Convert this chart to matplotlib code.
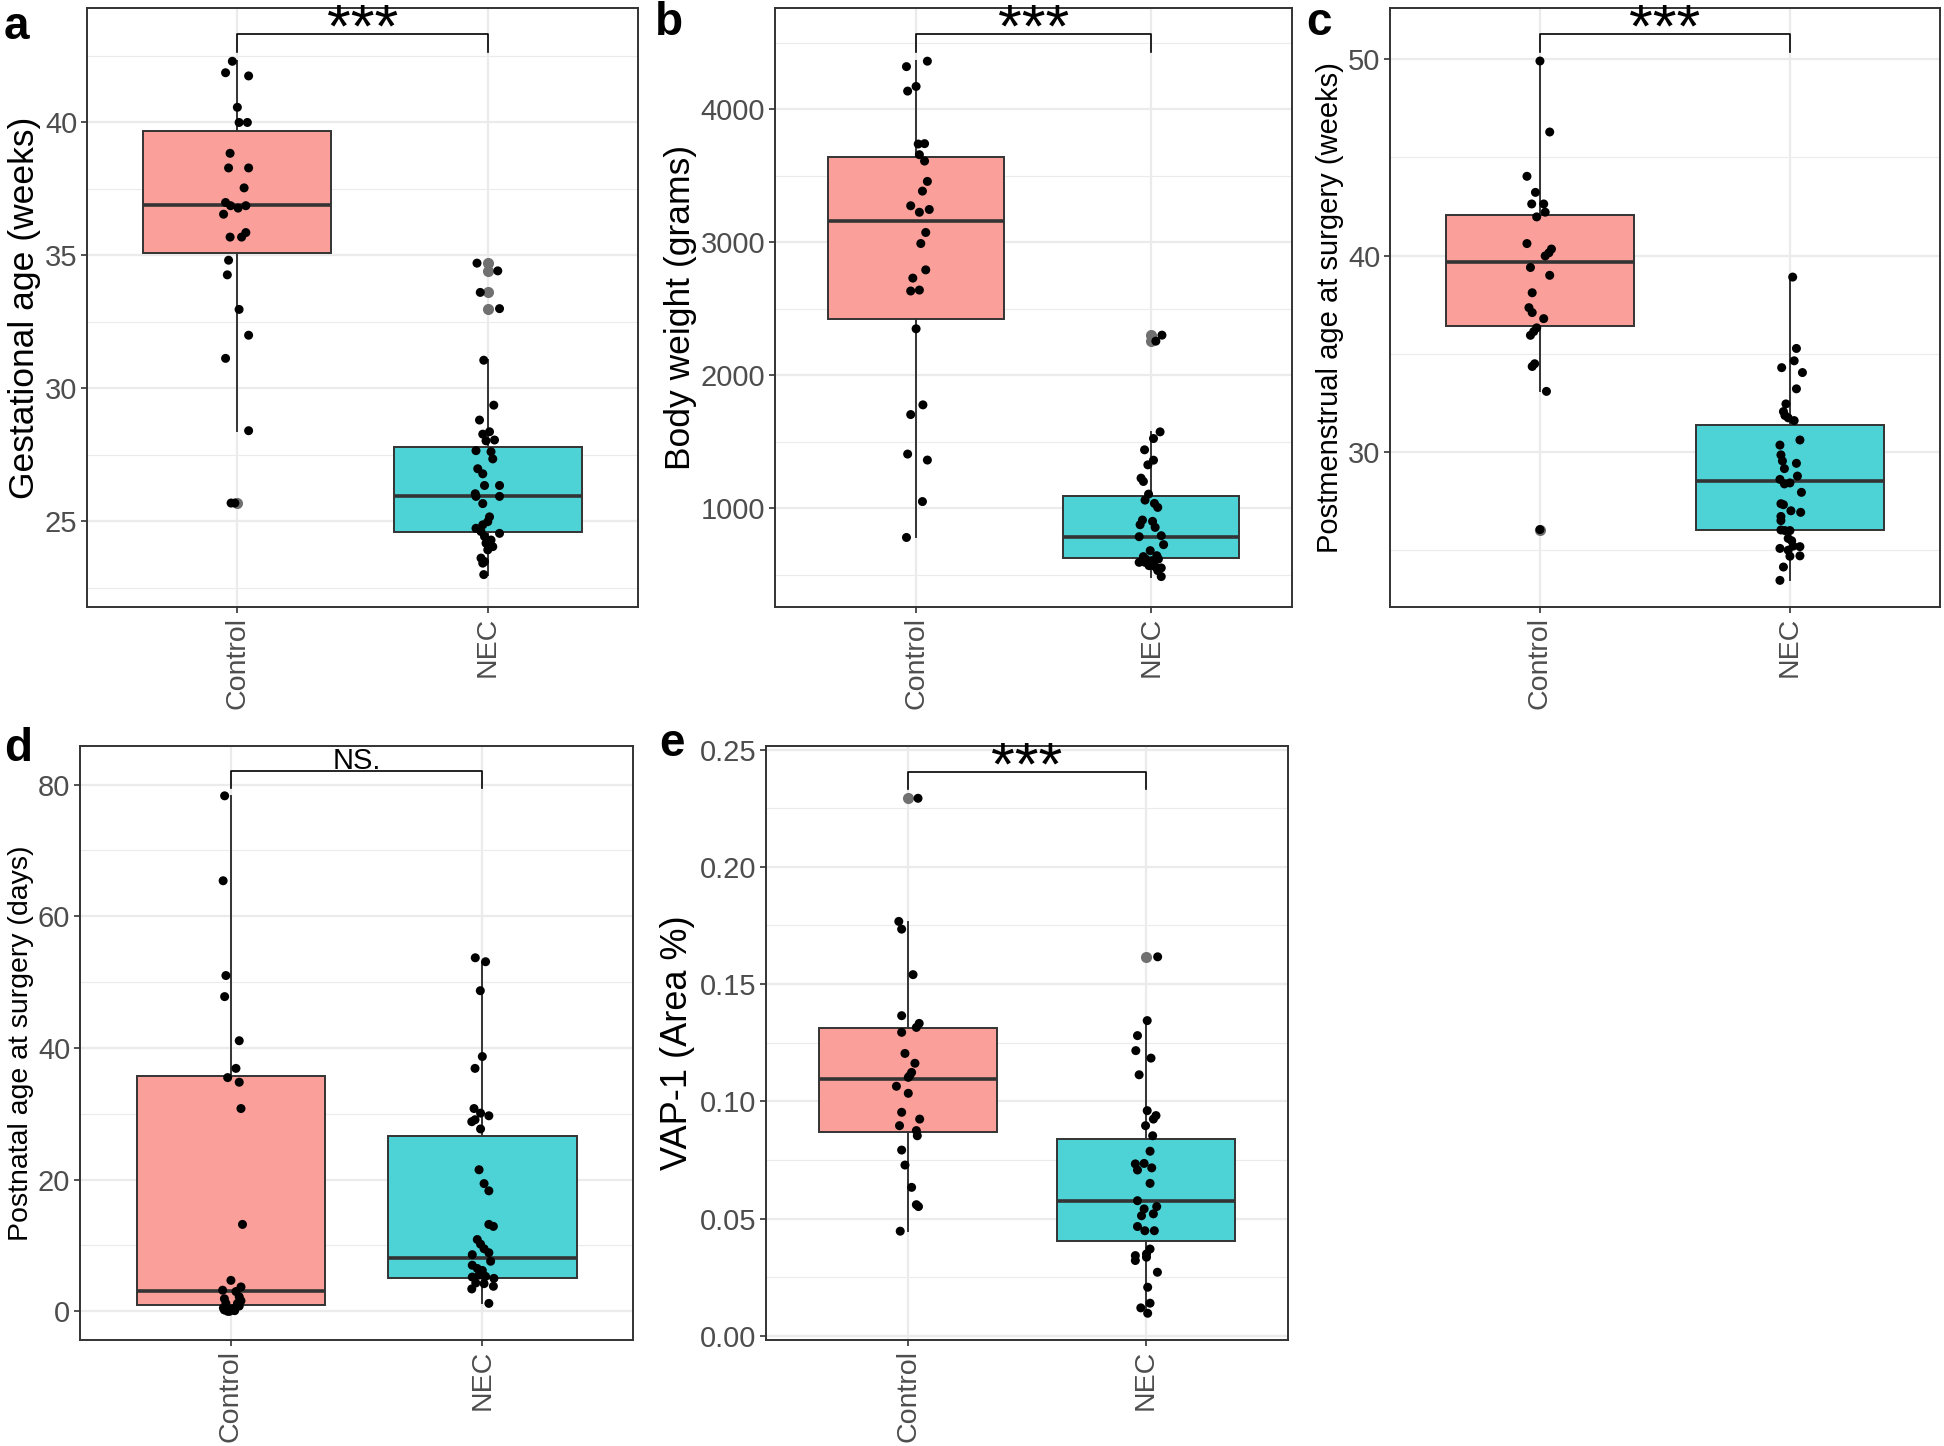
import numpy as np
import matplotlib.pyplot as plt

plt.rcParams['font.family'] = ['Liberation Sans', 'DejaVu Sans']

groups = ['Control', 'NEC']
fill_colors = ['#FA9F99', '#4DD2D6']

# a: gestational age (weeks)
ga_control = [42.30, 41.87, 41.75, 40.57, 40.00, 40.00, 38.84, 38.29, 38.29, 37.54,
              36.99, 36.87, 36.87, 36.78, 36.55, 35.86, 35.69, 35.69, 34.82, 34.27,
              32.97, 32.00, 31.13, 28.41, 25.69, 25.69]
ga_control_dx = [-0.02, -0.047, 0.045, 0.0, 0.007, 0.04, -0.029, -0.035, 0.045, 0.027,
                 -0.047, -0.027, 0.034, 0.003, -0.055, 0.034, -0.029, 0.017, -0.035, -0.04,
                 0.007, 0.045, -0.047, 0.045, -0.025, -0.01]
ga_nec = [34.71, 34.42, 33.61, 33.00, 31.06, 29.37, 28.81, 28.28, 28.37, 28.03,
          28.06, 27.66, 27.62, 27.35, 26.98, 26.79, 26.35, 26.35, 26.04, 25.94,
          25.94, 25.67, 25.17, 24.99, 24.87, 24.74, 24.62, 24.55, 24.43, 24.30,
          24.18, 24.05, 23.93, 23.62, 23.49, 23.43, 23.00]
ga_nec_dx = [-0.043, 0.04, -0.03, 0.047, -0.016, 0.024, -0.033, -0.02, 0.007, -0.007,
             0.027, -0.047, 0.013, 0.02, -0.04, -0.02, -0.013, 0.047, -0.05, -0.047,
             0.047, -0.02, 0.007, 0.0, -0.02, -0.047, -0.027, 0.047, -0.013, 0.013,
             -0.007, 0.02, 0.0, -0.027, -0.013, -0.02, -0.016]
ga_q1 = [35.08, 24.59]
ga_med = [36.88, 25.94]
ga_q3 = [39.69, 27.81]
ga_whislo = [28.41, 23.00]
ga_whishi = [42.30, 31.06]
ga_fliers = [[25.69], [34.71, 34.42, 33.61, 33.00]]

# b: body weight (grams)
bw_control = [4319, 4360, 4135, 4170, 3737, 3740, 3657, 3609, 3456, 3383,
              3273, 3224, 3245, 3072, 2989, 2791, 2729, 2632, 2639, 2348,
              1776, 1703, 1406, 1361, 1049, 779]
bw_control_dx = [-0.041, 0.048, -0.036, 0.0, 0.009, 0.036, 0.014, 0.036, 0.048, 0.027,
                 -0.023, 0.014, 0.056, 0.041, 0.02, 0.041, -0.014, -0.023, 0.014, 0.0,
                 0.029, -0.023, -0.036, 0.048, 0.027, -0.041]
bw_nec = [2300, 2255, 1573, 1523, 1438, 1360, 1325, 1225, 1200, 1105,
          1060, 1035, 1005, 910, 875, 900, 855, 785, 792, 725,
          680, 635, 642, 592, 592, 605, 617, 567, 560, 550,
          617, 530, 485]
bw_nec_dx = [0.046, 0.02, 0.038, 0.01, -0.028, 0.01, -0.014, -0.043, -0.033, -0.011,
             -0.026, 0.014, 0.028, -0.037, -0.047, 0.006, 0.017, -0.051, 0.043, 0.053,
             -0.004, -0.033, 0.024, -0.051, -0.026, 0.003, 0.031, -0.009, 0.017, 0.043,
             -0.023, 0.028, 0.043]
bw_q1 = [2420, 625]
bw_med = [3155, 782]
bw_q3 = [3640, 1090]
bw_whislo = [779, 485]
bw_whishi = [4360, 1573]
bw_fliers = [[], [2300, 2255]]

# c: postmenstrual age at surgery (weeks)
pma_control = [49.92, 46.30, 44.04, 43.22, 42.63, 42.63, 42.21, 41.97, 40.61, 40.33,
               40.14, 39.98, 39.39, 38.99, 38.10, 37.34, 37.09, 36.78, 36.31, 36.12,
               35.93, 34.48, 34.34, 33.07, 26.02]
pma_control_dx = [0.0, 0.039, -0.052, -0.018, -0.033, 0.015, 0.021, -0.013, -0.052, 0.046,
                  0.036, 0.021, -0.038, 0.039, -0.031, -0.044, -0.031, 0.015, -0.013, -0.025,
                  -0.038, -0.021, -0.031, 0.026, 0.0]
pma_nec = [38.90, 35.26, 34.63, 34.28, 34.03, 33.20, 32.43, 32.04, 31.84, 31.72,
           31.58, 30.59, 30.33, 29.83, 29.52, 29.40, 29.13, 28.75, 28.58, 28.35,
           28.40, 27.92, 27.34, 27.29, 26.98, 26.90, 26.69, 26.48, 26.00, 25.97,
           25.97, 25.57, 25.45, 25.18, 25.06, 25.15, 24.97, 24.68, 24.66, 24.11,
           23.43]
pma_nec_dx = [0.011, 0.026, 0.017, -0.033, 0.05, 0.026, -0.016, -0.026, -0.02, -0.007,
              0.017, 0.04, -0.04, -0.036, -0.03, 0.026, -0.022, 0.03, -0.04, -0.022,
              0.0, 0.046, -0.036, -0.026, 0.004, 0.043, -0.036, -0.036, -0.036, -0.02,
              0.0, -0.007, 0.007, 0.013, -0.04, 0.04, -0.007, 0.04, 0.0, -0.026,
              -0.04]
pma_q1 = [36.43, 25.98]
pma_med = [39.65, 28.48]
pma_q3 = [42.09, 31.35]
pma_whislo = [33.07, 23.43]
pma_whishi = [49.92, 38.90]
pma_fliers = [[26.02], []]

# d: postnatal age at surgery (days)
pna_control = [78.3, 65.4, 51.0, 47.8, 41.1, 36.9, 35.5, 34.8, 30.8, 13.2,
               4.7, 3.7, 3.2, 3.0, 2.2, 1.9, 1.6, 1.2, 1.2, 0.8,
               0.5, 0.4, 0.2, 0.1, 0.0, 0.0]
pna_control_dx = [-0.025, -0.031, -0.02, -0.025, 0.033, 0.02, -0.013, 0.033, 0.04, 0.046,
                  0.0, 0.04, -0.033, 0.02, 0.033, -0.026, 0.04, -0.02, 0.026, 0.033,
                  -0.03, 0.007, -0.026, 0.015, -0.013, -0.005]
pna_nec = [53.7, 53.1, 48.7, 38.7, 36.9, 30.8, 30.1, 29.7, 29.1, 28.8,
           27.7, 21.5, 19.4, 18.3, 13.2, 12.9, 10.9, 10.2, 9.5, 8.9,
           8.6, 7.6, 7.0, 6.5, 6.2, 5.2, 5.5, 5.3, 5.0, 4.3,
           4.2, 3.4, 3.8, 1.2]
pna_nec_dx = [-0.028, 0.013, -0.008, 0.0, -0.029, -0.033, -0.007, 0.026, -0.029, -0.042,
              -0.007, -0.013, 0.007, 0.026, 0.026, 0.044, -0.02, -0.007, 0.007, 0.026,
              -0.04, 0.033, -0.04, -0.02, 0.0, -0.04, -0.013, 0.013, 0.046, -0.026,
              0.007, -0.042, 0.044, 0.026]
pna_q1 = [0.91, 4.99]
pna_med = [3.02, 8.16]
pna_q3 = [35.72, 26.58]
pna_whislo = [0.0, 1.2]
pna_whishi = [78.3, 53.1]
pna_fliers = [[], []]

# e: VAP-1 (Area %)
vap_control = [0.2292, 0.1767, 0.1734, 0.1540, 0.1365, 0.1332, 0.1315, 0.1294, 0.1204, 0.1162,
               0.1123, 0.1109, 0.1102, 0.1064, 0.1034, 0.0953, 0.0924, 0.0896, 0.0875, 0.0853,
               0.0792, 0.0728, 0.0633, 0.0559, 0.0551, 0.0446]
vap_control_dx = [0.041, -0.04, -0.028, 0.02, -0.028, 0.046, 0.034, -0.028, -0.014, 0.028,
                  0.014, 0.006, 0.0, -0.05, 0.0, -0.028, 0.048, -0.037, 0.034, 0.038,
                  -0.028, -0.014, 0.014, 0.034, 0.043, -0.034]
vap_nec = [0.1616, 0.1344, 0.1280, 0.1216, 0.1184, 0.1113, 0.0960, 0.0939, 0.0924, 0.0896,
           0.0853, 0.0787, 0.0733, 0.0735, 0.0716, 0.0707, 0.0650, 0.0576, 0.0551, 0.0541,
           0.0512, 0.0520, 0.0466, 0.0448, 0.0448, 0.0370, 0.0349, 0.0342, 0.0321, 0.0335,
           0.0271, 0.0207, 0.0139, 0.0119, 0.0096]
vap_nec_dx = [0.051, 0.007, -0.034, -0.041, 0.023, -0.027, 0.007, 0.044, 0.033, 0.0,
              0.03, 0.019, -0.043, -0.006, 0.026, -0.034, 0.019, -0.034, 0.047, -0.006,
              -0.017, 0.033, -0.034, -0.003, 0.037, 0.019, 0.004, -0.043, -0.043, 0.004,
              0.05, 0.009, 0.019, -0.02, 0.009]
vap_q1 = [0.0870, 0.0403]
vap_med = [0.1096, 0.0575]
vap_q3 = [0.1314, 0.0841]
vap_whislo = [0.0446, 0.0096]
vap_whishi = [0.1764, 0.1344]
vap_fliers = [[0.2292], [0.1616]]

panels = [
    dict(letter='a', rect=[0.0448, 0.5802, 0.2834, 0.4142], ylabel='Gestational age (weeks)', lab_fs=25.5,
         pts=[(ga_control, ga_control_dx), (ga_nec, ga_nec_dx)],
         stats=(ga_q1, ga_med, ga_q3, ga_whislo, ga_whishi, ga_fliers),
         ylim=(21.78, 44.3), major=[25, 30, 35, 40], minor=[22.5, 27.5, 32.5, 37.5, 42.5],
         fmt='{:.0f}', bracket=(43.31, 42.65), sig='***', letter_xy=(0.002, 0.973)),
    dict(letter='b', rect=[0.3987, 0.5802, 0.2660, 0.4142], ylabel='Body weight (grams)', lab_fs=25.5,
         pts=[(bw_control, bw_control_dx), (bw_nec, bw_nec_dx)],
         stats=(bw_q1, bw_med, bw_q3, bw_whislo, bw_whishi, bw_fliers),
         ylim=(256, 4759), major=[1000, 2000, 3000, 4000], minor=[500, 1500, 2500, 3500, 4500],
         fmt='{:.0f}', bracket=(4561, 4430), sig='***', letter_xy=(0.337, 0.976)),
    dict(letter='c', rect=[0.7150, 0.5802, 0.2829, 0.4142], ylabel='Postmenstrual age at surgery (weeks)', lab_fs=21,
         pts=[(pma_control, pma_control_dx), (pma_nec, pma_nec_dx)],
         stats=(pma_q1, pma_med, pma_q3, pma_whislo, pma_whishi, pma_fliers),
         ylim=(22.07, 52.62), major=[30, 40, 50], minor=[25, 35, 45],
         fmt='{:.0f}', bracket=(51.28, 50.39), sig='***', letter_xy=(0.672, 0.976)),
    dict(letter='d', rect=[0.0412, 0.0733, 0.2845, 0.4108], ylabel='Postnatal age at surgery (days)', lab_fs=20.5,
         pts=[(pna_control, pna_control_dx), (pna_nec, pna_nec_dx)],
         stats=(pna_q1, pna_med, pna_q3, pna_whislo, pna_whishi, pna_fliers),
         ylim=(-4.36, 85.87), major=[0, 20, 40, 60, 80], minor=[10, 30, 50, 70],
         fmt='{:.0f}', bracket=(82.0, 79.5), sig='NS.', letter_xy=(0.002, 0.474)),
    dict(letter='e', rect=[0.3940, 0.0733, 0.2685, 0.4108], ylabel='VAP-1 (Area %)', lab_fs=26,
         pts=[(vap_control, vap_control_dx), (vap_nec, vap_nec_dx)],
         stats=(vap_q1, vap_med, vap_q3, vap_whislo, vap_whishi, vap_fliers),
         ylim=(-0.0018, 0.2515), major=[0, 0.05, 0.10, 0.15, 0.20, 0.25],
         minor=[0.025, 0.075, 0.125, 0.175, 0.225],
         fmt='{:.2f}', bracket=(0.2406, 0.2331), sig='***', letter_xy=(0.339, 0.477)),
]

fig = plt.figure(figsize=(19.44, 14.46), dpi=100)

for p in panels:
    ax = fig.add_axes(p['rect'])
    pos = [1, 2]
    ax.set_xlim(0.4, 2.6)
    ax.set_ylim(*p['ylim'])

    # theme_bw grid
    for v in p['minor']:
        ax.axhline(v, color='#EBEBEB', lw=0.8, zorder=0)
    for v in p['major']:
        ax.axhline(v, color='#EBEBEB', lw=1.6, zorder=0)
    for x in pos:
        ax.axvline(x, color='#EBEBEB', lw=1.6, zorder=0)

    q1, med, q3, lo, hi, fl = p['stats']
    bstats = [dict(q1=q1[i], med=med[i], q3=q3[i], whislo=lo[i], whishi=hi[i], fliers=fl[i])
              for i in range(2)]
    bp = ax.bxp(bstats, positions=pos, widths=0.75, patch_artist=True, showcaps=False,
                boxprops=dict(edgecolor='#333333', linewidth=1.4),
                whiskerprops=dict(color='#333333', linewidth=1.4),
                medianprops=dict(color='#333333', linewidth=2.6),
                flierprops=dict(marker='o', markerfacecolor='#707070', markeredgecolor='none',
                                markersize=8))
    for patch, c in zip(bp['boxes'], fill_colors):
        patch.set_facecolor(c)
        patch.set_zorder(2)

    for i, (vals, dx) in enumerate(p['pts']):
        ax.scatter(pos[i] + np.array(dx), vals, s=42, color='black', edgecolors='none', zorder=4)

    # significance bracket
    top, tip = p['bracket']
    ax.plot([1, 1, 2, 2], [tip, top, top, tip], color='black', lw=1.2, zorder=5, clip_on=False)
    if p['sig'] == '***':
        ax.annotate(p['sig'], xy=(1.5, top), xytext=(0, -9), textcoords='offset points',
                    ha='center', va='baseline', fontsize=44, annotation_clip=False)
    else:
        ax.annotate(p['sig'], xy=(1.5, top), xytext=(0, 2), textcoords='offset points',
                    ha='center', va='baseline', fontsize=21, annotation_clip=False)

    ax.set_xticks(pos)
    ax.set_xticklabels(groups, rotation=90, fontsize=20.5, color='#4D4D4D')
    ax.set_yticks(p['major'])
    ax.set_yticklabels([p['fmt'].format(v) for v in p['major']], fontsize=21, color='#4D4D4D')
    ax.tick_params(length=4, width=1.2, color='#333333', pad=3)
    ax.set_ylabel(p['ylabel'], fontsize=p['lab_fs'], labelpad=3)
    for s in ax.spines.values():
        s.set_color('#333333')
        s.set_linewidth(1.4)

    fig.text(p['letter_xy'][0], p['letter_xy'][1], p['letter'], fontsize=33,
             fontweight='bold', ha='left', va='baseline')

fig.savefig('out.png', dpi=100)
